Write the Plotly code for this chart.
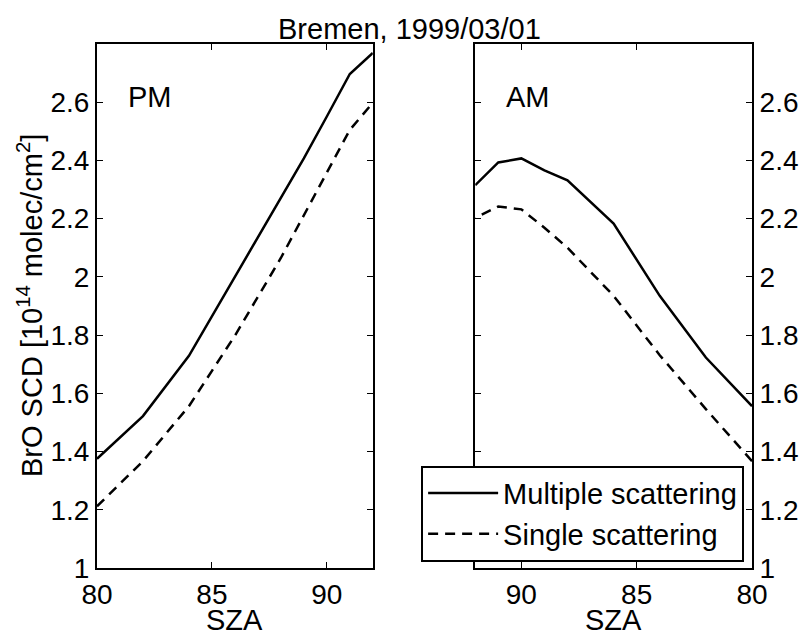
import plotly.graph_objects as go

# ---- data ----
sza = [80, 82, 84, 86, 88, 89, 90, 91, 92]
pm_multiple = [1.375, 1.522, 1.729, 2.000, 2.270, 2.407, 2.551, 2.697, 2.769]
pm_single = [1.212, 1.367, 1.556, 1.798, 2.065, 2.212, 2.361, 2.505, 2.598]
am_multiple = [1.556, 1.723, 1.935, 2.183, 2.332, 2.366, 2.407, 2.393, 2.315]
am_single = [1.367, 1.546, 1.731, 1.935, 2.100, 2.169, 2.232, 2.242, 2.203]

y_ticks = [1, 1.2, 1.4, 1.6, 1.8, 2, 2.2, 2.4, 2.6]
y_ticktext = ["1", "1.2", "1.4", "1.6", "1.8", "2", "2.2", "2.4", "2.6"]
x_ticks = [80, 85, 90]

title_text = "Bremen, 1999/03/01"
ylabel = "BrO SCD [10<sup>14</sup> molec/cm<sup>2</sup>]"
xlabel = "SZA"
names = ["Multiple scattering", "Single scattering"]

FONT = "Liberation Sans, Arial, Helvetica, sans-serif"
FS = 29
TFS = 28
W, H = 811, 632
L, R, T, B = 97, 49, 44, 64
pw = W - L - R
ph = H - T - B

def px_x(p):
    return (p - L) / pw

def px_y(p):
    return (H - B - p) / ph

fig = go.Figure()
lw = 2.5
dash = "10px,7px"

fig.add_trace(go.Scatter(x=sza, y=pm_multiple, mode="lines", name=names[0],
                         line=dict(color="black", width=lw), xaxis="x", yaxis="y"))
fig.add_trace(go.Scatter(x=sza, y=pm_single, mode="lines", name=names[1],
                         line=dict(color="black", width=lw, dash=dash), xaxis="x", yaxis="y"))
fig.add_trace(go.Scatter(x=sza, y=am_multiple, mode="lines", name=names[0], showlegend=False,
                         line=dict(color="black", width=lw), xaxis="x2", yaxis="y2"))
fig.add_trace(go.Scatter(x=sza, y=am_single, mode="lines", name=names[1], showlegend=False,
                         line=dict(color="black", width=lw, dash=dash), xaxis="x2", yaxis="y2"))

axis_common = dict(showgrid=False, zeroline=False, showline=True, linecolor="black",
                   linewidth=2, mirror="ticks", ticks="inside", ticklen=6, tickwidth=1.2,
                   tickcolor="black", tickfont=dict(family=FONT, size=TFS, color="black"))

fig.update_layout(
    width=W, height=H,
    margin=dict(l=L, r=R, t=T, b=B, pad=0),
    paper_bgcolor="white", plot_bgcolor="white",
    font=dict(family=FONT, size=FS, color="black"),
    xaxis=dict(domain=[0, px_x(377)], range=[80, 92], tickvals=x_ticks, anchor="y", **axis_common),
    yaxis=dict(domain=[0, 1], range=[1, 2.8], tickvals=y_ticks, ticktext=y_ticktext,
               anchor="x", side="left", **axis_common),
    xaxis2=dict(domain=[px_x(481), 1], range=[92, 80], tickvals=x_ticks, anchor="y2", **axis_common),
    yaxis2=dict(domain=[0, 1], range=[1, 2.8], tickvals=y_ticks, ticktext=y_ticktext,
                anchor="x2", side="right", **axis_common),
    showlegend=True,
    legend=dict(x=px_x(754), y=px_y(561.7), xanchor="right", yanchor="bottom",
                bgcolor="white", bordercolor="black", borderwidth=2,
                font=dict(family=FONT, size=FS, color="black"), itemwidth=70,
                tracegroupgap=0),
    annotations=[
        dict(text=title_text, x=px_x(414.5), y=px_y(29), xref="paper", yref="paper",
             showarrow=False, xanchor="center", yanchor="middle",
             font=dict(family=FONT, size=FS, color="black")),
        dict(text=ylabel, x=px_x(29), y=0.5, xref="paper", yref="paper", textangle=-90,
             showarrow=False, xanchor="center", yanchor="middle",
             font=dict(family=FONT, size=FS, color="black")),
        dict(text=xlabel, x=px_x(237), y=px_y(620), xref="paper", yref="paper",
             showarrow=False, xanchor="center", yanchor="middle",
             font=dict(family=FONT, size=FS, color="black")),
        dict(text=xlabel, x=px_x(621.5), y=px_y(620), xref="paper", yref="paper",
             showarrow=False, xanchor="center", yanchor="middle",
             font=dict(family=FONT, size=FS, color="black")),
        dict(text="PM", x=81.24, y=2.617, xref="x", yref="y",
             showarrow=False, xanchor="left", yanchor="middle",
             font=dict(family=FONT, size=FS, color="black")),
        dict(text="AM", x=90.76, y=2.617, xref="x2", yref="y2",
             showarrow=False, xanchor="left", yanchor="middle",
             font=dict(family=FONT, size=FS, color="black")),
    ],
)

fig.write_html("out.html",
               config={"displayModeBar": False},
               post_script=("document.documentElement.style.margin='0';"
                            "document.documentElement.style.overflow='hidden';"
                            "document.body.style.margin='0';"
                            "document.body.style.padding='0';"
                            "document.body.style.overflow='hidden';"))
